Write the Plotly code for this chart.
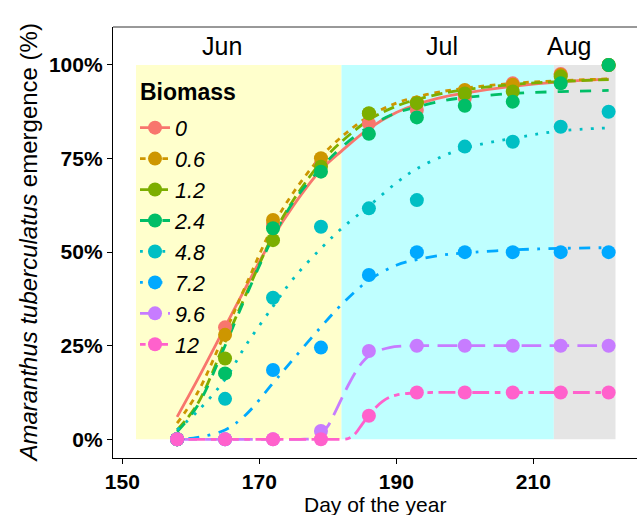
import plotly.graph_objects as go

# ---- observed emergence (%) by sampling day ----
obs_days = [158, 165, 172, 179, 186, 193, 200, 207, 214, 221]
obs_0   = [0, 29.9, 57.5, 73.5, 84.4, 88.0, 91.2, 95.1, 97.6, 100]
obs_06  = [0, 27.9, 58.6, 75.1, 87.0, 90.0, 93.3, 94.7, 97.3, 100]
obs_12  = [0, 21.6, 53.2, 72.8, 87.1, 89.8, 92.4, 92.9, 96.9, 100]
obs_24  = [0, 17.6, 56.4, 71.5, 81.6, 86.0, 89.1, 90.2, 95.1, 100]
obs_48  = [0, 10.8, 37.8, 56.8, 61.7, 63.9, 78.2, 79.5, 83.5, 87.5]
obs_72  = [0, 0, 18.5, 24.5, 43.9, 50, 50, 50, 50, 50]
obs_96  = [0, 0, 0, 2.2, 23.6, 25, 25, 25, 25, 25]
obs_12b = [0, 0, 0, 0, 6.3, 12.5, 12.5, 12.5, 12.5, 12.5]

# ---- fitted emergence curves ----
fit_days = [158, 161, 165, 168, 172, 175, 179, 182, 186, 190, 193, 197, 200, 207, 214, 221]
fit_0  = [6.0, 16.0, 30.0, 40.5, 54.0, 62.5, 72.0, 77.0, 83.0, 87.3, 89.5, 91.5, 92.5, 94.3, 95.5, 96.2]
fit_06 = [4.3, 12.5, 28.5, 41.0, 57.0, 66.0, 75.5, 80.8, 86.3, 89.8, 91.5, 93.0, 93.8, 95.1, 95.8, 96.3]
fit_12 = [2.5, 9.5, 26.0, 38.5, 54.5, 64.0, 74.0, 79.5, 85.3, 89.0, 90.8, 92.5, 93.4, 94.8, 95.6, 96.1]
fit_24 = [2.0, 9.0, 25.0, 38.0, 54.0, 63.5, 72.5, 78.0, 83.5, 87.2, 88.8, 90.5, 91.3, 92.4, 92.9, 93.2]
fit_48 = [2.5, 7.5, 16.0, 25.0, 35.5, 43.0, 51.0, 56.3, 62.3, 68.5, 72.3, 75.8, 77.8, 80.4, 82.4, 83.2]
fit_72 = [0.0, 0.5, 2.5, 6.5, 15.0, 21.5, 30.0, 36.0, 42.5, 46.5, 48.0, 49.3, 49.8, 50.6, 51.0, 51.2]

fit96_days = [158, 165, 172, 176, 178, 179, 180, 181, 182, 183, 184, 185, 186, 187, 189, 191, 193, 200, 207, 214, 221]
fit_96     = [0, 0, 0, 0, 0.3, 1.5, 3.5, 7.0, 10.8, 14.5, 17.8, 20.5, 22.3, 23.4, 24.5, 24.9, 25, 25, 25, 25, 25]
fit12_days = [158, 165, 172, 179, 181, 183, 184, 185, 186, 187, 188, 189, 190, 192, 195, 200, 207, 214, 221]
fit_12b    = [0, 0, 0, 0, 0, 0.2, 1.5, 4.0, 6.4, 8.5, 10.1, 11.2, 11.8, 12.3, 12.5, 12.5, 12.5, 12.5, 12.5]

biomass = ["0", "0.6", "1.2", "2.4", "4.8", "7.2", "9.6", "12"]

# ---- axis ticks ----
x_ticks = [150, 170, 190, 210]
y_ticks = [0, 25, 50, 75, 100]
y_tick_labels = ["0%", "25%", "50%", "75%", "100%"]

# ---- month bands ----
months = ["Jun", "Jul", "Aug"]
month_start = [152, 182, 213]
month_end = [182, 213, 222]
month_label_x = [164.6, 196.6, 215.2]
band_colors = ["#FFFFCC", "#BFFFFF", "#E5E5E5"]

colors = ["#F8766D", "#CD9600", "#7CAE00", "#00BE67",
          "#00BFC4", "#00A9FF", "#C77CFF", "#FF61CC"]
u = 2.8  # line width, also the dash unit
dashes = ["solid",
          f"{2*u}px,{2*u}px",
          f"{4*u}px,{2*u}px",
          f"{4*u}px,{4*u}px",
          f"{1*u}px,{3*u}px",
          f"{1*u}px,{3*u}px,{4*u}px,{3*u}px",
          f"{7*u}px,{3*u}px",
          f"{2*u}px,{2*u}px,{6*u}px,{2*u}px"]

obs = [obs_0, obs_06, obs_12, obs_24, obs_48, obs_72, obs_96, obs_12b]
fits = [(fit_days, fit_0), (fit_days, fit_06), (fit_days, fit_12), (fit_days, fit_24),
        (fit_days, fit_48), (fit_days, fit_72), (fit96_days, fit_96), (fit12_days, fit_12b)]

FONT = "Liberation Sans, Arial, sans-serif"
fig = go.Figure()

# fitted curves
for i, (fx, fy) in enumerate(fits):
    fig.add_trace(go.Scatter(
        x=fx, y=fy, mode="lines", showlegend=False, hoverinfo="skip",
        line=dict(color=colors[i], width=u, dash=dashes[i], shape="spline", smoothing=1.0)))

# observed points
for i, oy in enumerate(obs):
    fig.add_trace(go.Scatter(
        x=obs_days, y=oy, mode="markers", showlegend=False,
        marker=dict(color=colors[i], size=14, line=dict(width=0))))

# legend keys
for i, name in enumerate(biomass):
    fig.add_trace(go.Scatter(
        x=[None], y=[None], mode="lines+markers", name=name, legendgroup=name,
        line=dict(color=colors[i], width=u, dash=dashes[i]),
        marker=dict(color=colors[i], size=14)))

shapes = []
for s, e, c in zip(month_start, month_end, band_colors):
    shapes.append(dict(type="rect", xref="x", yref="y", x0=s, x1=e, y0=0, y1=100,
                       fillcolor=c, line=dict(width=0), layer="below"))
# top frame line
shapes.append(dict(type="line", xref="paper", yref="paper", x0=0, x1=1, y0=1, y1=1,
                   line=dict(color="#333333", width=1)))

annotations = []
for m, mx in zip(months, month_label_x):
    annotations.append(dict(x=mx, y=105, xref="x", yref="y", text=m, showarrow=False,
                            font=dict(family=FONT, size=25, color="black"),
                            xanchor="center", yanchor="middle"))
annotations.append(dict(x=-0.162, y=0.5, xref="paper", yref="paper",
                        text="<i>Amaranthus tuberculatus</i> emergence (%)",
                        textangle=-90, showarrow=False,
                        font=dict(family=FONT, size=24, color="black"),
                        xanchor="center", yanchor="middle"))
annotations.append(dict(x=0.5, y=-0.108, xref="paper", yref="paper",
                        text="Day of the year", showarrow=False,
                        font=dict(family=FONT, size=21, color="black"),
                        xanchor="center", yanchor="middle"))
# legend heading
annotations.append(dict(x=0.0477, y=0.849, xref="paper", yref="paper",
                        text="<b>Biomass</b>", showarrow=False,
                        font=dict(family=FONT, size=23, color="black"),
                        xanchor="left", yanchor="middle"))

fig.update_layout(
    width=637, height=515,
    margin=dict(l=113, r=0, t=27, b=57),
    paper_bgcolor="white", plot_bgcolor="white",
    font=dict(family=FONT, color="black"),
    shapes=shapes, annotations=annotations,
    legend=dict(
        x=0.042, y=0.814, xanchor="left", yanchor="top",
        bgcolor="rgba(0,0,0,0)", tracegroupgap=0,
        font=dict(family=FONT, size=21.5, color="black", style="italic"),
        itemsizing="trace",
    ),
    xaxis=dict(range=[148.64, 225.14], tickmode="array", tickvals=x_ticks,
               showgrid=False, zeroline=False, showline=True, linecolor="black", linewidth=1.3,
               ticks="outside", ticklen=5, tickwidth=1.3, tickcolor="black",
               tickfont=dict(family=FONT, size=21, color="black", weight="bold")),
    yaxis=dict(range=[-5.0, 110.15], tickmode="array", tickvals=y_ticks, ticktext=y_tick_labels,
               showgrid=False, zeroline=False, showline=True, linecolor="black", linewidth=1.3,
               ticks="outside", ticklen=5, tickwidth=1.3, tickcolor="black",
               tickfont=dict(family=FONT, size=21, color="black", weight="bold")),
)

fig.write_html("out.html")
